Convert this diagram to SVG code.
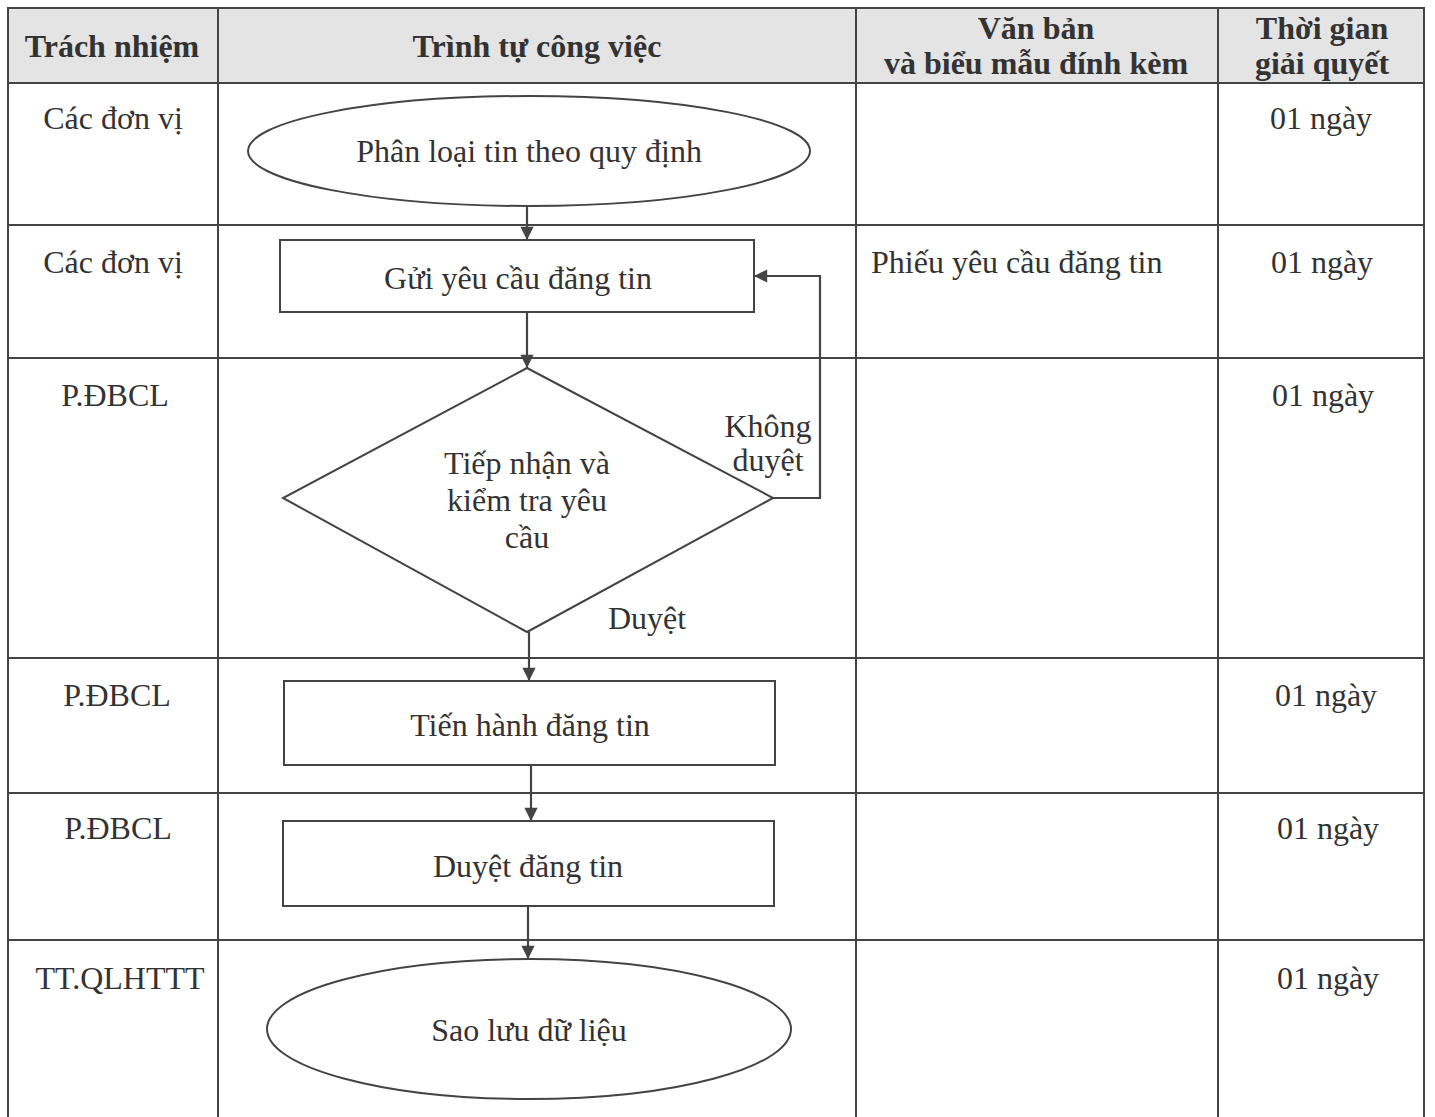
<svg xmlns="http://www.w3.org/2000/svg" width="1435" height="1117" viewBox="0 0 1435 1117">
<style>
.t{font-family:"Liberation Serif","Times New Roman",serif;font-size:32px;fill:#333}
.h{font-family:"Liberation Serif","Times New Roman",serif;font-size:32px;font-weight:bold;fill:#333}
.m{text-anchor:middle}
.grid{stroke:#444;stroke-width:2;fill:none}
.shape{stroke:#444;stroke-width:2;fill:#fff}
.conn{stroke:#444;stroke-width:2.2;fill:none}
</style>
<defs>
<marker id="arr" viewBox="0 0 10 10" refX="10" refY="5" markerWidth="7.5" markerHeight="6" markerUnits="strokeWidth" orient="auto">
<path d="M0,0 L10,5 L0,10 z" fill="#444"/>
</marker>
</defs>
<rect width="1435" height="1117" fill="#fff"/>
<g id="table">
<rect x="8" y="8" width="1416" height="75" fill="#e4e4e4"/>
<path class="grid" d="M8,1117 V8 H1424 V1117 M218,8 V1117 M856,8 V1117 M1218,8 V1117 M8,83 H1424 M8,225 H1424 M8,358 H1424 M8,658 H1424 M8,793 H1424 M8,940 H1424"/>
<text class="h m" x="112" y="57">Trách nhiệm</text>
<text class="h m" x="537" y="57">Trình tự công việc</text>
<text class="h m" x="1036" y="39">Văn bản</text>
<text class="h m" x="1036" y="74">và biểu mẫu đính kèm</text>
<text class="h m" x="1322" y="39">Thời gian</text>
<text class="h m" x="1322" y="74">giải quyết</text>
<text class="t m" x="113" y="129">Các đơn vị</text>
<text class="t m" x="113" y="273">Các đơn vị</text>
<text class="t m" x="115" y="406">P.ĐBCL</text>
<text class="t m" x="117" y="706">P.ĐBCL</text>
<text class="t m" x="118" y="839">P.ĐBCL</text>
<text class="t m" x="120" y="989">TT.QLHTTT</text>
<text class="t" x="871" y="273">Phiếu yêu cầu đăng tin</text>
<text class="t m" x="1321" y="129">01 ngày</text>
<text class="t m" x="1322" y="273">01 ngày</text>
<text class="t m" x="1323" y="406">01 ngày</text>
<text class="t m" x="1326" y="706">01 ngày</text>
<text class="t m" x="1328" y="839">01 ngày</text>
<text class="t m" x="1328" y="989">01 ngày</text>
</g>
<g id="connectors">
<path class="conn" d="M527,206 V240" marker-end="url(#arr)"/>
<path class="conn" d="M527,312 V368" marker-end="url(#arr)"/>
<path class="conn" d="M773,498 H820 V276 H754" marker-end="url(#arr)"/>
<path class="conn" d="M529,632 V681" marker-end="url(#arr)"/>
<path class="conn" d="M531,765 V821" marker-end="url(#arr)"/>
<path class="conn" d="M528,906 V959" marker-end="url(#arr)"/>
<text class="t m" x="768" y="437">Không</text>
<text class="t m" x="768" y="471">duyệt</text>
<text class="t m" x="647" y="629">Duyệt</text>
</g>
<g id="n1">
<ellipse class="shape" cx="529" cy="151" rx="281" ry="55"/>
<text class="t m" x="529" y="162">Phân loại tin theo quy định</text>
</g>
<g id="n2">
<rect class="shape" x="280" y="240" width="474" height="72"/>
<text class="t m" x="518" y="289">Gửi yêu cầu đăng tin</text>
</g>
<g id="n3">
<polygon class="shape" points="527,368 773,498 527,632 283,498"/>
<text class="t m" x="527" y="474">Tiếp nhận và</text>
<text class="t m" x="527" y="511">kiểm tra yêu</text>
<text class="t m" x="527" y="548">cầu</text>
</g>
<g id="n4">
<rect class="shape" x="284" y="681" width="491" height="84"/>
<text class="t m" x="530" y="736">Tiến hành đăng tin</text>
</g>
<g id="n5">
<rect class="shape" x="283" y="821" width="491" height="85"/>
<text class="t m" x="528" y="877">Duyệt đăng tin</text>
</g>
<g id="n6">
<ellipse class="shape" cx="529" cy="1029" rx="262" ry="70"/>
<text class="t m" x="529" y="1041">Sao lưu dữ liệu</text>
</g>
</svg>
